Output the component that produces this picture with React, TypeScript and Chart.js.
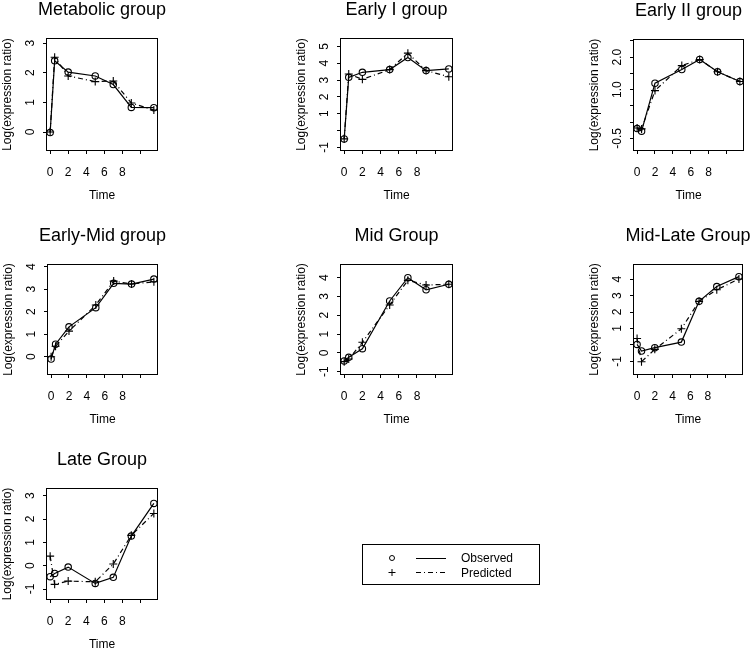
import React, { useEffect, useRef } from "react";
import { Chart, registerables } from "chart.js";

Chart.register(...registerables);

const FONT = "'Liberation Sans', Arial, Helvetica, sans-serif";

// Sampling times (hours)
const times = [0, 0.5, 2, 5, 7, 9, 11.5];
const xTickValues = [0, 2, 4, 6, 8, 10];
const xTickLabels = ["0", "2", "4", "6", "8", ""];

// Metabolic group
const metabolicObserved = [-0.02, 2.4, 2.02, 1.89, 1.6, 0.83, 0.82];
const metabolicPredicted = [0.0, 2.52, 1.89, 1.7, 1.72, 0.98, 0.74];
const metabolicYTicks = [0, 1, 2, 3];
const metabolicYLabels = ["0", "1", "2", "3"];

// Early I group
const earlyIObserved = [-0.5, 3.16, 3.46, 3.62, 4.34, 3.56, 3.66];
const earlyIPredicted = [-0.5, 3.36, 3.04, 3.62, 4.6, 3.56, 3.2];
const earlyIYTicks = [-1, 0, 1, 2, 3, 4, 5];
const earlyIYLabels = ["-1", "", "1", "2", "3", "4", "5"];

// Early II group
const earlyIIObserved = [-0.2, -0.28, 1.2, 1.62, 1.93, 1.55, 1.25];
const earlyIIPredicted = [-0.18, -0.21, 0.97, 1.74, 1.93, 1.55, 1.25];
const earlyIIYTicks = [-0.5, 0, 0.5, 1, 1.5, 2, 2.5];
const earlyIIYLabels = ["-0.5", "", "", "1.0", "", "2.0", ""];

// Early-Mid group
const earlyMidObserved = [-0.1, 0.56, 1.33, 2.18, 3.26, 3.23, 3.45];
const earlyMidPredicted = [0.0, 0.47, 1.14, 2.3, 3.36, 3.23, 3.33];
const earlyMidYTicks = [0, 1, 2, 3, 4];
const earlyMidYLabels = ["0", "1", "2", "3", "4"];

// Mid Group
const midObserved = [-0.43, -0.24, 0.22, 2.76, 4.0, 3.36, 3.65];
const midPredicted = [-0.47, -0.33, 0.56, 2.55, 3.86, 3.61, 3.65];
const midYTicks = [-1, 0, 1, 2, 3, 4];
const midYLabels = ["-1", "0", "1", "2", "3", "4"];

// Mid-Late Group
const midLateObserved = [0.03, -0.37, -0.17, 0.17, 2.65, 3.55, 4.15];
const midLatePredicted = [0.39, -1.02, -0.27, 0.98, 2.65, 3.35, 4.01];
const midLateYTicks = [-1, 0, 1, 2, 3, 4];
const midLateYLabels = ["-1", "", "1", "2", "3", "4"];

// Late Group
const lateObserved = [-0.47, -0.33, -0.06, -0.76, -0.5, 1.27, 2.67];
const latePredicted = [0.41, -0.8, -0.66, -0.69, 0.07, 1.3, 2.24];
const lateYTicks = [-1, 0, 1, 2, 3];
const lateYLabels = ["-1", "0", "1", "2", "3"];

const seriesNames = ["Observed", "Predicted"];

type PanelSpec = {
  title: string;
  observed: number[];
  predicted: number[];
  yMin: number;
  yMax: number;
  yTicks: number[];
  yLabels: string[];
  left: number;
  top: number;
  w: number;
  h: number;
};

const panels: PanelSpec[] = [
  { title: "Metabolic group", observed: metabolicObserved, predicted: metabolicPredicted, yMin: -0.64, yMax: 3.17, yTicks: metabolicYTicks, yLabels: metabolicYLabels, left: 46, top: 38, w: 112, h: 113 },
  { title: "Early I group", observed: earlyIObserved, predicted: earlyIPredicted, yMin: -1.22, yMax: 5.5, yTicks: earlyIYTicks, yLabels: earlyIYLabels, left: 340, top: 38, w: 113, h: 113 },
  { title: "Early II group", observed: earlyIIObserved, predicted: earlyIIPredicted, yMin: -0.89, yMax: 2.56, yTicks: earlyIIYTicks, yLabels: earlyIIYLabels, left: 633, top: 39, w: 111, h: 112 },
  { title: "Early-Mid group", observed: earlyMidObserved, predicted: earlyMidPredicted, yMin: -0.81, yMax: 4.12, yTicks: earlyMidYTicks, yLabels: earlyMidYLabels, left: 47, top: 264, w: 111, h: 111 },
  { title: "Mid Group", observed: midObserved, predicted: midPredicted, yMin: -1.18, yMax: 4.73, yTicks: midYTicks, yLabels: midYLabels, left: 340, top: 264, w: 113, h: 111 },
  { title: "Mid-Late Group", observed: midLateObserved, predicted: midLatePredicted, yMin: -1.83, yMax: 4.92, yTicks: midLateYTicks, yLabels: midLateYLabels, left: 633, top: 264, w: 110, h: 111 },
  { title: "Late Group", observed: lateObserved, predicted: latePredicted, yMin: -1.47, yMax: 3.33, yTicks: lateYTicks, yLabels: lateYLabels, left: 46, top: 488, w: 112, h: 112 },
];

const Y_AXIS_W = 46;
const X_AXIS_H = 55;
const TOP_H = 40;
const TICK_LEN = 3;

function measureWidest(labels: string[]): number {
  const c = document.createElement("canvas");
  const ctx = c.getContext("2d");
  if (!ctx) return 7;
  ctx.font = `12px ${FONT}`;
  let m = 0;
  for (const l of labels) m = Math.max(m, ctx.measureText(l).width);
  return m;
}

const framePlugin = {
  id: "frameBox",
  afterDatasetsDraw(chart: any) {
    const { ctx, chartArea: a } = chart;
    ctx.save();
    ctx.strokeStyle = "#000";
    ctx.lineWidth = 1;
    const l = Math.round(a.left) + 0.5;
    const t = Math.round(a.top) + 0.5;
    const r = Math.round(a.right) - 0.5;
    const b = Math.round(a.bottom) - 0.5;
    ctx.strokeRect(l, t, r - l, b - t);
    ctx.restore();
  },
};

function Panel({ spec }: { spec: PanelSpec }) {
  const ref = useRef<HTMLCanvasElement | null>(null);
  useEffect(() => {
    if (!ref.current) return;
    const widest = measureWidest(spec.yLabels);
    const yPad = Math.max(0, 15 - TICK_LEN - widest / 2);
    const pts = (vals: number[]) => times.map((t, i) => ({ x: t, y: vals[i] }));
    const chart = new Chart(ref.current, {
      type: "line",
      data: {
        datasets: [
          {
            label: seriesNames[1],
            data: pts(spec.predicted),
            borderColor: "#000",
            borderWidth: 1.2,
            borderDash: [5, 3, 1, 3],
            pointStyle: "cross",
            pointRadius: 4,
            pointBorderWidth: 1.1,
            pointBorderColor: "#000",
            pointBackgroundColor: "rgba(0,0,0,0)",
            tension: 0,
          },
          {
            label: seriesNames[0],
            data: pts(spec.observed),
            borderColor: "#000",
            borderWidth: 1.2,
            pointStyle: "circle",
            pointRadius: 3.2,
            pointBorderWidth: 1.1,
            pointBorderColor: "#000",
            pointBackgroundColor: "rgba(0,0,0,0)",
            tension: 0,
          },
        ],
      },
      options: {
        animation: false,
        responsive: false,
        events: [],
        layout: { padding: 0 },
        plugins: {
          legend: { display: false },
          tooltip: { enabled: false },
          title: {
            display: true,
            text: spec.title,
            color: "#000",
            font: { family: FONT, size: 18, weight: "normal" },
            padding: { top: 1, bottom: TOP_H - 21.6 - 1 },
          },
        },
        scales: {
          x: {
            type: "linear",
            min: -0.46,
            max: 11.96,
            afterBuildTicks: (scale: any) => {
              scale.ticks = xTickValues.map((v) => ({ value: v }));
            },
            afterFit: (scale: any) => {
              scale.height = X_AXIS_H;
            },
            ticks: {
              autoSkip: false,
              maxRotation: 0,
              minRotation: 0,
              padding: 11.4,
              color: "#000",
              font: { family: FONT, size: 12 },
              callback: (v: any) => {
                const i = xTickValues.indexOf(Number(v));
                return i >= 0 ? xTickLabels[i] : "";
              },
            },
            grid: { display: true, drawOnChartArea: false, drawTicks: true, tickLength: TICK_LEN, color: "#000", lineWidth: 1 },
            border: { display: false },
            title: { display: true, text: "Time", color: "#000", font: { family: FONT, size: 12 }, padding: { top: 0, bottom: 3.5 } },
          },
          y: {
            type: "linear",
            position: "left",
            min: spec.yMin,
            max: spec.yMax,
            afterBuildTicks: (scale: any) => {
              scale.ticks = spec.yTicks.map((v) => ({ value: v }));
            },
            afterFit: (scale: any) => {
              scale.width = Y_AXIS_W;
            },
            ticks: {
              autoSkip: false,
              minRotation: 90,
              maxRotation: 90,
              crossAlign: "center",
              padding: yPad,
              color: "#000",
              font: { family: FONT, size: 12 },
              callback: (v: any) => {
                const i = spec.yTicks.indexOf(Number(v));
                return i >= 0 ? spec.yLabels[i] : "";
              },
            },
            grid: { display: true, drawOnChartArea: false, drawTicks: true, tickLength: TICK_LEN, color: "#000", lineWidth: 1 },
            border: { display: false },
            title: { display: true, text: "Log(expression ratio)", color: "#000", font: { family: FONT, size: 12 }, padding: { top: 0.8, bottom: 0 } },
          },
          yRightSpacer: {
            type: "linear",
            position: "right",
            display: true,
            afterFit: (scale: any) => {
              scale.width = Y_AXIS_W;
            },
            ticks: { display: false },
            grid: { display: false, drawTicks: false },
            border: { display: false },
          },
        },
      },
      plugins: [framePlugin],
    } as any);
    return () => chart.destroy();
  }, [spec]);

  const cw = spec.w + 2 * Y_AXIS_W;
  const ch = TOP_H + spec.h + X_AXIS_H;
  return (
    <canvas
      ref={ref}
      width={cw}
      height={ch}
      style={{ position: "absolute", left: spec.left - Y_AXIS_W, top: spec.top - TOP_H, width: cw, height: ch, display: "block" }}
    />
  );
}

function Legend() {
  return (
    <svg width={750} height={649} style={{ position: "absolute", left: 0, top: 0, pointerEvents: "none" }}>
      <rect x={362.5} y={544.5} width={177} height={40} fill="none" stroke="#000" strokeWidth={1} />
      <circle cx={392} cy={558} r={2.5} fill="none" stroke="#000" strokeWidth={1} />
      <line x1={388.5} y1={572.5} x2={395.5} y2={572.5} stroke="#000" strokeWidth={1} />
      <line x1={392} y1={569} x2={392} y2={576} stroke="#000" strokeWidth={1} />
      <line x1={416} y1={558.5} x2={446} y2={558.5} stroke="#000" strokeWidth={1} />
      <line x1={416} y1={572.5} x2={446} y2={572.5} stroke="#000" strokeWidth={1} strokeDasharray="5,3,1,3" />
      <text x={461} y={558} dominantBaseline="central" fontFamily={FONT} fontSize={12} fill="#000">{seriesNames[0]}</text>
      <text x={461} y={572.5} dominantBaseline="central" fontFamily={FONT} fontSize={12} fill="#000">{seriesNames[1]}</text>
    </svg>
  );
}

export default function App() {
  return (
    <div style={{ position: "fixed", left: 0, top: 0, width: 750, height: 649, overflow: "hidden", background: "#fff" }}>
      {panels.map((p) => (
        <Panel key={p.title} spec={p} />
      ))}
      <Legend />
    </div>
  );
}
